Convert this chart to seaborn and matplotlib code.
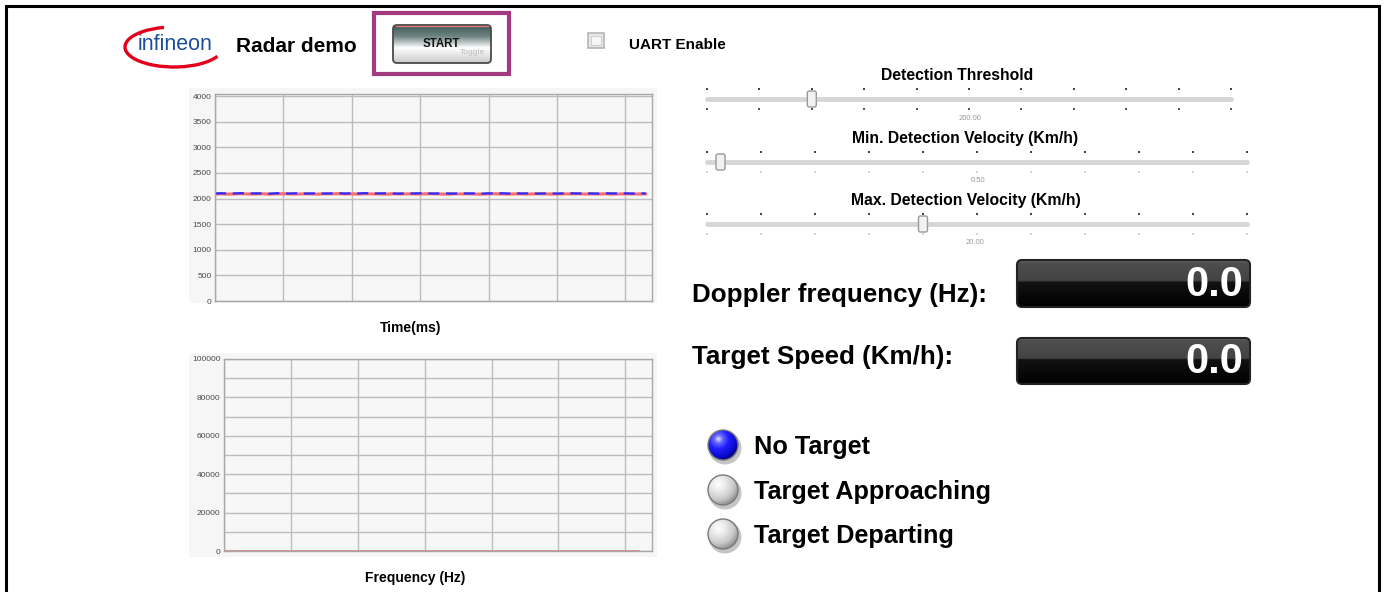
import numpy as np
import pandas as pd
import matplotlib
matplotlib.use("Agg")
import matplotlib.pyplot as plt
import seaborn as sns
from matplotlib.patches import Rectangle, FancyBboxPatch, Circle, Arc
from matplotlib.colors import LinearSegmentedColormap
from matplotlib.ticker import MultipleLocator

# ---------------- data ----------------
time_ms = list(range(0, 640, 10))
signal_i = [2098, 2102, 2096, 2100, 2104, 2097, 2101, 2099, 2095, 2103, 2100, 2098,
            2102, 2097, 2099, 2101, 2096, 2100, 2103, 2098, 2101, 2099, 2105, 2097,
            2100, 2102, 2098, 2096, 2101, 2099, 2103, 2100, 2097, 2101, 2099, 2096,
            2102, 2098, 2100, 2095, 2101, 2099, 2103, 2097, 2100, 2098, 2102, 2096,
            2099, 2101, 2097, 2100, 2103, 2098, 2101, 2099, 2096, 2102, 2100, 2098,
            2101, 2097, 2100, 2099]
signal_q = [2088, 2091, 2086, 2090, 2093, 2087, 2089, 2092, 2085, 2090, 2094, 2088,
            2087, 2091, 2089, 2086, 2092, 2090, 2095, 2088, 2091, 2087, 2093, 2089,
            2090, 2086, 2092, 2088, 2091, 2089, 2087, 2093, 2090, 2088, 2086, 2091,
            2089, 2092, 2087, 2085, 2090, 2093, 2088, 2086, 2091, 2089, 2087, 2092,
            2090, 2088, 2086, 2091, 2089, 2093, 2087, 2090, 2088, 2092, 2086, 2089,
            2091, 2088, 2090, 2089]
freq_hz = list(range(0, 640, 20))
spectrum = [0] * len(freq_hz)

time_yticks = [0, 500, 1000, 1500, 2000, 2500, 3000, 3500, 4000]
freq_yticks = [0, 20000, 40000, 60000, 80000, 100000]

slider_titles = ["Detection Threshold", "Min. Detection Velocity (Km/h)", "Max. Detection Velocity (Km/h)"]
slider_values = ["200.00", "0.50", "20.00"]
slider_pos = [2, 0.25, 4]          # thumb position in tick steps (0..10)

readout_labels = ["Doppler frequency (Hz):", "Target Speed (Km/h):"]
readout_values = ["0.0", "0.0"]

status_labels = ["No Target", "Target Approaching", "Target Departing"]
status_active = [True, False, False]

# ---------------- figure ----------------
sns.set_style("white")
plt.rcParams["font.family"] = ["Liberation Sans", "DejaVu Sans"]

W, H = 1385, 592
fig = plt.figure(figsize=(W / 100, H / 100), dpi=100)
fig.patch.set_facecolor("white")

# overlay in pixel coordinates
ov = fig.add_axes([0, 0, 1, 1], zorder=0)
ov.set_xlim(0, W)
ov.set_ylim(H, 0)
ov.axis("off")


def fbox(x0, y0, x1, y1):
    return [x0 / W, 1 - y1 / H, (x1 - x0) / W, (y1 - y0) / H]


def grad(x0, y0, x1, y1, stops, clip=None, z=2):
    cmap = LinearSegmentedColormap.from_list("g", stops)
    img = np.linspace(0, 1, 256)[:, None]
    im = ov.imshow(img, cmap=cmap, extent=(x0, x1, y1, y0), origin="upper",
                   aspect="auto", zorder=z, interpolation="bilinear")
    if clip is not None:
        im.set_clip_path(clip)
    return im


def sphere(cx, cy, r, stops, z=3):
    shadow = Circle((cx + 2, cy + 3), r + 1.5, color="#8c8c8c", alpha=0.5, zorder=z - 1, lw=0)
    ov.add_patch(shadow)
    c = Circle((cx, cy), r, facecolor="none", edgecolor="#7a7a7a", lw=1, zorder=z + 1)
    ov.add_patch(c)
    yy, xx = np.mgrid[-1:1:200j, -1:1:200j]
    d = np.sqrt((xx + 0.3) ** 2 + (yy + 0.4) ** 2) / 1.5
    cmap = LinearSegmentedColormap.from_list("s", stops)
    im = ov.imshow(np.clip(d, 0, 1), cmap=cmap, vmin=0, vmax=1,
                   extent=(cx - r, cx + r, cy + r, cy - r), origin="upper",
                   aspect="auto", zorder=z, interpolation="bilinear")
    clipc = Circle((cx, cy), r, transform=ov.transData)
    im.set_clip_path(clipc)


# outer frame
ov.plot([6, 6, 1379, 1379], [592, 5.5, 5.5, 592], color="black", lw=2.2, zorder=1,
        solid_joinstyle="miter")

# ---------------- header ----------------
ov.add_patch(Arc((174, 47), 98, 40, theta1=12, theta2=243, color="#e2001a", lw=2.4, zorder=3))
ov.text(175, 45, "infineon", ha="center", va="center", fontsize=15.5, color="#1b4f9c",
        fontstretch="condensed", zorder=4)
ov.text(236, 47, "Radar demo", ha="left", va="center", fontsize=15, fontweight="bold", color="black")

ov.add_patch(Rectangle((374, 12.5), 135, 61.5, facecolor="white", edgecolor="#a23a80", lw=3, zorder=2))
btn = FancyBboxPatch((393, 25), 98, 38, boxstyle="round,pad=0,rounding_size=4",
                     facecolor="none", edgecolor="#4a4a4a", lw=1.3, zorder=4)
ov.add_patch(btn)
grad(393, 25, 491, 63, [(0, "#3c5855"), (0.3, "#6f8583"), (0.6, "#ffffff"), (1, "#c9c9c9")], clip=btn, z=3)
ov.plot([396, 488], [25.8, 25.8], color="#e07a7a", lw=1, zorder=5)
ov.text(441, 44, "START", ha="center", va="center", fontsize=8.3, fontweight="bold", color="#111111", zorder=6)
ov.text(485, 53, "Toggle", ha="right", va="center", fontsize=6, color="#bdbdbd", zorder=6)

ov.add_patch(Rectangle((588, 33), 16, 15, facecolor="#e8e8e8", edgecolor="#b5b5b5", lw=1.2, zorder=3))
ov.add_patch(Rectangle((591, 36), 10, 9, facecolor="#f7f7f7", edgecolor="#d0d0d0", lw=0.8, zorder=4))
ov.text(629, 45, "UART Enable", ha="left", va="center", fontsize=11, fontweight="bold", color="black")

# ---------------- charts ----------------
ov.add_patch(Rectangle((189, 88), 468, 215, facecolor="#f6f6f6", edgecolor="none", zorder=1))
ov.add_patch(Rectangle((189, 353), 468, 204, facecolor="#f6f6f6", edgecolor="none", zorder=1))

ax1 = fig.add_axes(fbox(215, 94, 652, 301), zorder=5)
ax2 = fig.add_axes(fbox(224, 359, 652, 551), zorder=5)

df_t = pd.DataFrame({"t": time_ms, "i": signal_i, "q": signal_q})
sns.lineplot(data=df_t, x="t", y="q", ax=ax1, color="#ff6b6b", lw=2.2)
sns.lineplot(data=df_t, x="t", y="i", ax=ax1, color="#2b2bff", lw=1.6, dashes=False)
ax1.lines[-1].set_dashes([5, 3])
ax1.set_xlim(0, 639)
ax1.set_ylim(0, 4040)
ax1.set_yticks(time_yticks)

df_f = pd.DataFrame({"f": freq_hz, "p": spectrum})
sns.lineplot(data=df_f, x="f", y="p", ax=ax2, color="#d98080", lw=1.2)
ax2.set_xlim(0, 640)
ax2.set_ylim(0, 100000)
ax2.set_yticks(freq_yticks)
ax2.yaxis.set_minor_locator(MultipleLocator(10000))

for ax in (ax1, ax2):
    ax.set_facecolor("#f7f7f7")
    ax.xaxis.set_major_locator(MultipleLocator(100))
    ax.set_xticklabels([])
    ax.set_xlabel("")
    ax.set_ylabel("")
    ax.grid(True, which="both", color="#bcbcbc", lw=1)
    ax.set_axisbelow(True)
    ax.tick_params(axis="both", which="both", length=0, labelsize=6, labelcolor="#4a4a4a", pad=2.5)
    for s in ax.spines.values():
        s.set_color("#a8a8a8")
        s.set_linewidth(1)

ov.text(411, 328, "Time(ms)", ha="center", va="center", fontsize=10, fontweight="bold", color="black")
ov.text(415, 578, "Frequency (Hz)", ha="center", va="center", fontsize=10, fontweight="bold", color="black")

# ---------------- sliders ----------------
slider_geo = [  # (title_x, title_y, x0, x1, track_y, value_x, value_y, lower_dot_color)
    (957, 76, 707, 1231, 99, 970, 119, "#555555"),
    (965, 138, 707, 1247, 162, 978, 180, "#d5d5d5"),
    (966, 201, 707, 1247, 224, 975, 242, "#d5d5d5"),
]
for (tx, ty, x0, x1, yt, vx, vy, lc), title, val, pos in zip(slider_geo, slider_titles, slider_values, slider_pos):
    ov.text(tx, ty, title, ha="center", va="center", fontsize=11.3, fontweight="bold", color="black")
    ov.plot([x0, x1], [yt, yt], color="#d6d6d6", lw=3.5, solid_capstyle="round", zorder=2)
    xs = np.linspace(x0, x1, 11)
    ov.scatter(xs, np.full(11, yt - 10), s=2.5, color="#444444", marker="s", lw=0, zorder=2)
    ov.scatter(xs, np.full(11, yt + 10), s=2.5, color=lc, marker="s", lw=0, zorder=2)
    thx = x0 + pos * (x1 - x0) / 10
    ov.add_patch(FancyBboxPatch((thx - 4.5, yt - 8), 9, 16, boxstyle="round,pad=0,rounding_size=2",
                                facecolor="#f2f2f2", edgecolor="#9a9a9a", lw=1, zorder=4))
    ov.text(vx, vy, val, ha="center", va="center", fontsize=5.5, color="#9a9a9a")

# ---------------- readouts ----------------
for (ly, y0, y1), lab, val in zip([(295, 260, 307), (357, 338, 384)], readout_labels, readout_values):
    ov.text(692, ly, lab, ha="left", va="center", fontsize=18.7, fontweight="bold", color="black")
    b = FancyBboxPatch((1017, y0), 233, y1 - y0, boxstyle="round,pad=0,rounding_size=5",
                       facecolor="none", edgecolor="#222222", lw=1.5, zorder=4)
    ov.add_patch(b)
    grad(1017, y0, 1250, y1, [(0, "#6a6a6a"), (0.06, "#4e4e4e"), (0.44, "#444444"),
                              (0.47, "#121212"), (1, "#000000")], clip=b, z=3)
    ov.text(1243, (y0 + y1) / 2 + 1, val, ha="right", va="center", fontsize=30,
            fontweight="bold", color="white", zorder=6)

# ---------------- status indicators ----------------
blue_stops = [(0, "#e6e8ff"), (0.18, "#6a6aff"), (0.45, "#1f1fff"), (0.8, "#0808c8"), (1, "#000070")]
grey_stops = [(0, "#ffffff"), (0.3, "#ececec"), (0.7, "#c8c8c8"), (1, "#8a8a8a")]
for cy, lab, act in zip([445, 490, 534], status_labels, status_active):
    sphere(723, cy, 15, blue_stops if act else grey_stops)
    ov.text(754, cy + 2, lab, ha="left", va="center", fontsize=18.2, fontweight="bold", color="black")

fig.savefig("out.png", dpi=100, facecolor="white")
